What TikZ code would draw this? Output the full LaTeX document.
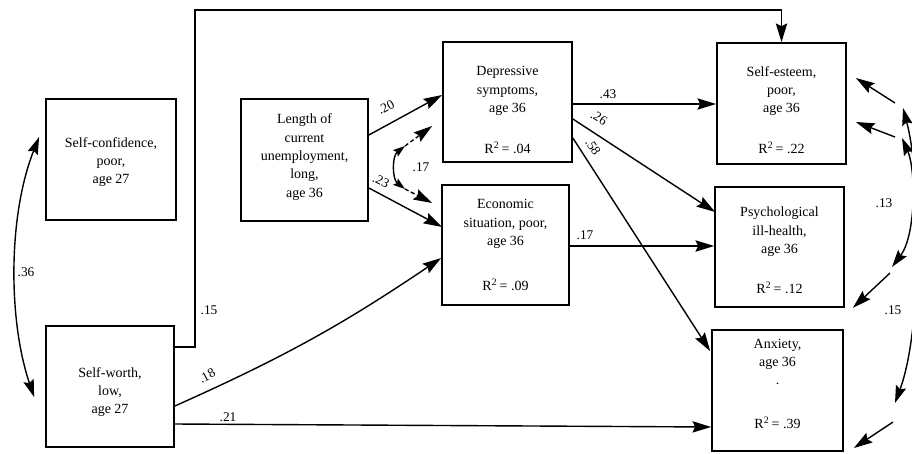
\documentclass[tikz,border=0pt]{standalone}
\usepackage{fontspec}
\setmainfont{Liberation Serif}
\usetikzlibrary{arrows.meta,calc}
\begin{document}
\begin{tikzpicture}[x=0.75pt,y=-0.75pt,
  box/.style={draw,line width=1.3pt,inner sep=0pt},
  txt/.style={align=center,inner sep=0pt,font=\fontsize{10.5}{13.8}\selectfont},
  lbl/.style={inner sep=0pt,font=\fontsize{10}{12}\selectfont},
  link/.style={line width=1.05pt,-{Stealth[length=14pt,width=8.5pt,inset=2pt]}},
  corr/.style={line width=1.05pt,{Stealth[length=13pt,width=8pt,inset=2pt]}-{Stealth[length=13pt,width=8pt,inset=2pt]}},
  smallcorr/.style={line width=1.05pt,{Stealth[length=9pt,width=6pt,inset=1.5pt]}-{Stealth[length=9pt,width=6pt,inset=1.5pt]}},
  dlink/.style={link,dash pattern=on 3pt off 2pt}]
\useasboundingbox (0,0) rectangle (912,453);
\clip (0,0) rectangle (912,453);

% boxes
\node[box,minimum width=97.5pt,minimum height=90.75pt] (sc) at (111,159.5) {};
\node[box,minimum width=96pt,minimum height=90.75pt] (sw) at (110,386.5) {};
\node[box,minimum width=95.25pt,minimum height=91.5pt] (len) at (304.5,160) {};
\node[box,minimum width=96.75pt,minimum height=90pt] (dep) at (507.5,102) {};
\node[box,minimum width=95.25pt,minimum height=90pt] (eco) at (505.5,245) {};
\node[box,minimum width=96.75pt,minimum height=90.75pt] (se) at (781.5,103.5) {};
\node[box,minimum width=96.75pt,minimum height=90pt] (psy) at (779.5,247) {};
\node[box,minimum width=98.25pt,minimum height=90.75pt] (anx) at (777.5,390.5) {};

% box texts
\node[txt] (sctxt) at (111,162) {Self-confidence,\\poor,\\age 27};
\node[txt] (swtxt) at (110,392) {Self-worth,\\low,\\age 27};
\node[txt] (lentxt) at (304.5,157) {Length of\\current\\unemployment,\\long,\\age 36};
\node[txt] (deptxt) at (507.5,91) {Depressive\\symptoms,\\age 36};
\node[txt] (depr) at (507.5,148) {R\textsuperscript{2}\,= .04};
\node[txt] (ecotxt) at (505.5,224) {Economic\\situation, poor,\\age 36};
\node[txt] (ecor) at (505.5,285) {R\textsuperscript{2}\,= .09};
\node[txt] (setxt) at (781.5,91) {Self-esteem,\\poor,\\age 36};
\node[txt] (ser) at (781.5,148) {R\textsuperscript{2}\,= .22};
\node[txt] (psytxt) at (779.5,232) {Psychological\\ill-health,\\age 36};
\node[txt] (psyr) at (779.5,288) {R\textsuperscript{2}\,= .12};
\node[txt] (anxtxt) at (777.5,362) {Anxiety,\\age 36\\.};
\node[txt] (anxr) at (777.5,423) {R\textsuperscript{2}\,= .39};

% paths from self-worth
\draw[link] ($(sw.east)+(0,-39.5)$) -- (195,347) -- (195,10) -| (se.north);
\draw[link] ($(sw.east)+(0,19.5)$) to[bend right=5] ($(eco.west)+(0,13)$);
\draw[link] ($(sw.east)+(0,37.5)$) -- ($(anx.west)+(0,36.5)$);

% paths from unemployment
\draw[link] ($(len.east)+(0,-25)$) -- ($(dep.west)+(0,-7)$);
\draw[link] ($(len.east)+(0,28)$) -- ($(eco.west)+(1,-18)$);

% correlated residuals of the two mediators
\coordinate (ca) at (405,146);
\coordinate (cb) at (405,189);
\draw[smallcorr] (ca) .. controls (392,156) and (392,179) .. (cb);
\draw[dlink] (ca) -- ($(dep.west)+(-10,24)$);
\draw[dlink] (cb) -- ($(eco.west)+(-9,-42)$);

% paths from the mediators
\draw[link] ($(dep.east)+(0,2)$) -- ($(se.west)+(0,0.5)$);
\draw[link] ($(dep.east)+(0,17)$) -- ($(psy.west)+(1,-35)$);
\draw[link] ($(dep.east)+(0,36)$) -- ($(anx.north west)+(-1,22)$);
\draw[link] ($(eco.east)+(0,1)$) -- ($(psy.west)+(0,-1)$);

% correlation of the age 27 measures
\draw[corr] ($(sc.west)+(-6,-22.5)$) .. controls (8,215) and (8,320) .. ($(sw.west)+(-11,10.5)$);

% correlated residuals of the outcomes
\coordinate (ra1) at (903,108);
\coordinate (ra2) at (895,403);
\coordinate (rb1) at (902,138);
\coordinate (rb2) at (892,267);
\draw[corr] (ra1) .. controls (922,180) and (922,330) .. (ra2);
\draw[corr] (rb1) .. controls (916,170) and (916,235) .. (rb2);
\draw[link] ($(ra1)+(-8,-5)$) -- ($(se.east)+(9,-25.5)$);
\draw[link] ($(rb1)+(-7,-1)$) -- ($(se.east)+(9,18.5)$);
\draw[link] ($(rb2)+(-2,6)$) -- ($(psy.south east)+(8,0)$);
\draw[link] ($(ra2)+(-2,19)$) -- ($(anx.east)+(10,57.5)$);

% coefficients
\node[lbl] (l15a) at (209,310) {.15};
\node[lbl,rotate=29] (l18) at (207,376) {.18};
\node[lbl] (l21) at (228,417) {.21};
\node[lbl,rotate=28] (l20) at (386,107) {.20};
\node[lbl,rotate=-27] (l23) at (381,181) {.23};
\node[lbl] (l17a) at (421,167) {.17};
\node[lbl] (l43) at (608,94) {.43};
\node[lbl,rotate=-33] (l26) at (599,118) {.26};
\node[lbl,rotate=-57] (l58) at (593,147) {.58};
\node[lbl] (l17b) at (585,235) {.17};
\node[lbl] (l13) at (884,203) {.13};
\node[lbl] (l15b) at (893,310) {.15};
\node[lbl] (l36) at (26,272) {.36};
\end{tikzpicture}
\end{document}
